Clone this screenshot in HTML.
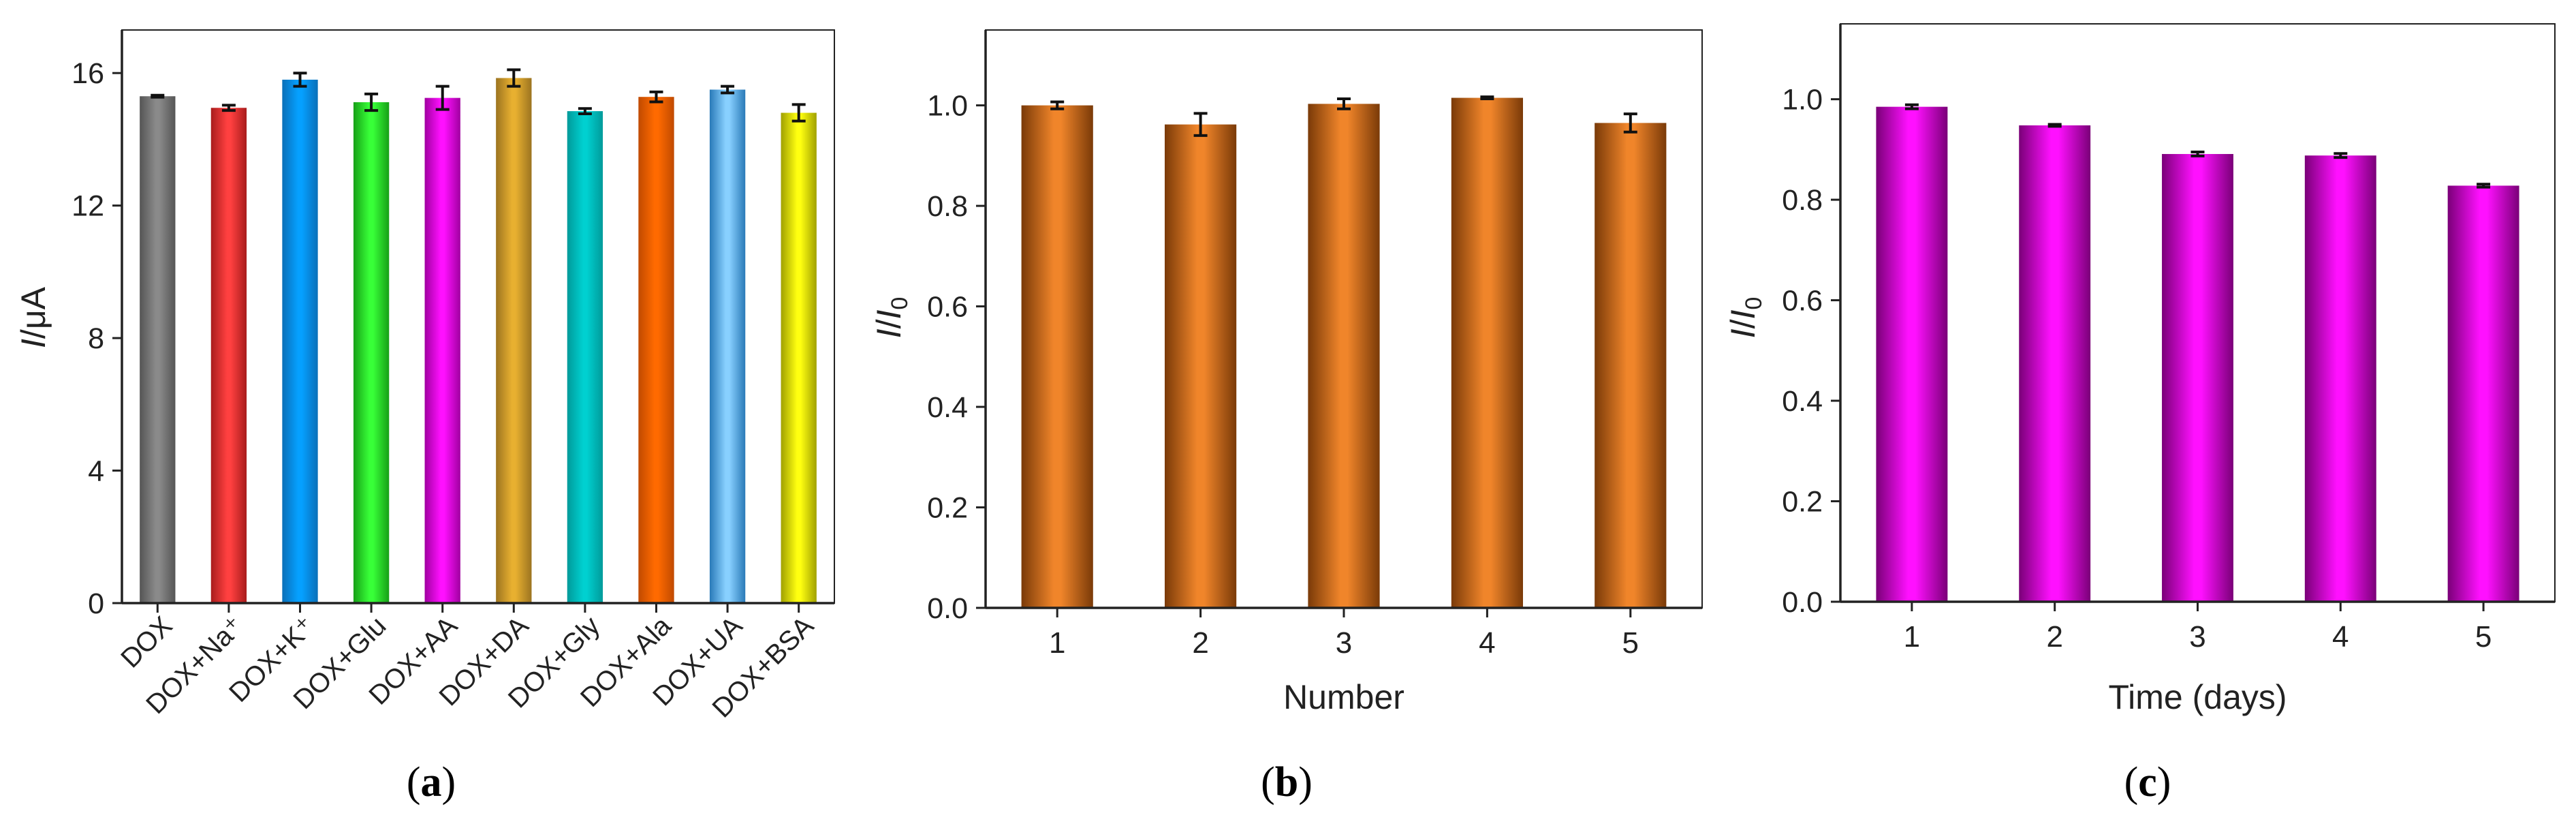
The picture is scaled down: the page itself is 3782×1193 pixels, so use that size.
<!DOCTYPE html>
<html><head><meta charset="utf-8">
<style>
html,body{margin:0;padding:0;background:#fff;}
svg{display:block;font-family:"Liberation Sans",Arial,sans-serif;}
</style></head>
<body>
<svg id="fig" xmlns="http://www.w3.org/2000/svg" width="3782" height="1193" viewBox="0 0 3782 1193">
<defs id="defs"></defs>
<rect x="0" y="0" width="3782" height="1193" fill="#fff"/>
</svg>
<script>
// ---- Panel a data ----
const catsA = ["DOX","DOX+Na⁺","DOX+K⁺","DOX+Glu","DOX+AA","DOX+DA","DOX+Gly","DOX+Ala","DOX+UA","DOX+BSA"];
const valsA = [15.3,14.95,15.8,15.12,15.25,15.85,14.85,15.28,15.5,14.8];
const errsA = [0.03,0.08,0.2,0.25,0.35,0.25,0.08,0.15,0.1,0.25];
const ticksA = [0,4,8,12,16];
// ---- Panel b data ----
const catsB = ["1","2","3","4","5"];
const valsB = [1.0,0.962,1.003,1.015,0.965];
const errsB = [0.007,0.022,0.01,0.002,0.018];
const ticksB = ["0.0","0.2","0.4","0.6","0.8","1.0"];
// ---- Panel c data ----
const catsC = ["1","2","3","4","5"];
const valsC = [0.985,0.948,0.891,0.888,0.828];
const errsC = [0.004,0.002,0.004,0.004,0.003];
const ticksC = ["0.0","0.2","0.4","0.6","0.8","1.0"];

const colorsA = [["#555","#8a8a8a"],["#a81c1c","#ff4040"],["#0a6fb8","#05a0ff"],["#17a017","#38ff38"],["#a000a0","#ff10ff"],["#9c7420","#e8b030"],["#009a9a","#00d0d0"],["#c04a00","#ff6a00"],["#2a7ab8","#88d0ff"],["#a0a000","#ffff10"]];
const NS = "http://www.w3.org/2000/svg";
const svg = document.getElementById("fig");
const defs = document.getElementById("defs");
function mk(tag, attrs, parent){const e=document.createElementNS(NS,tag);for(const k in attrs)e.setAttribute(k,attrs[k]);(parent||svg).appendChild(e);return e;}
function grad(id, edge, mid){
  const g=mk("linearGradient",{id:id,x1:"0",x2:"1",y1:"0",y2:"0"},defs);
  mk("stop",{offset:"0",  "stop-color":edge},g);
  mk("stop",{offset:"0.45","stop-color":mid},g);
  mk("stop",{offset:"0.55","stop-color":mid},g);
  mk("stop",{offset:"1",  "stop-color":edge},g);
}

function panel(p){
  const g = mk("g",{});
  
  
  const yS = v => p.bottom - (v - 0)/(p.ymax) * (p.bottom - p.top);
  const band = (p.right - p.left)/p.cats.length;
  const xS = i => p.left + band*(i+0.5);
  p.vals.forEach((v,i)=>{
    const w = band*0.5, x = xS(i)-w/2, y = yS(v);
    const r = mk("rect",{x:x,y:y,width:w,height:p.bottom-y,fill:"url(#"+p.fill(i)+")"},g);
    
    
  });
  p.vals.forEach((v,i)=>{
    const e=p.errs[i], cx=xS(i), y1=yS(v+e), y2=yS(v-e);
    const eg = mk("g",{stroke:"#111","stroke-width":4},g);
    
    
    mk("line",{x1:cx,x2:cx,y1:y1,y2:y2},eg);
    mk("line",{x1:cx-10,x2:cx+10,y1:y1,y2:y1},eg);
    mk("line",{x1:cx-10,x2:cx+10,y1:y2,y2:y2},eg);
  });
  const f = mk("rect",{x:p.left,y:p.top,width:p.right-p.left,height:p.bottom-p.top,fill:"none",stroke:"#222","stroke-width":2},g);
  
  
  mk("line",{x1:p.left,x2:p.right,y1:p.bottom,y2:p.bottom,stroke:"#222","stroke-width":3.5},g);
  mk("line",{x1:p.left,x2:p.left,y1:p.top,y2:p.bottom,stroke:"#222","stroke-width":3.5},g);
  p.ticks.forEach(t=>{
    const y=yS(parseFloat(t));
    mk("line",{x1:p.left-14,x2:p.left,y1:y,y2:y,stroke:"#222","stroke-width":3},g);
    const tx = mk("text",{x:p.left-26,y:y+15,"text-anchor":"end","font-size":43,fill:"#222"},g);
    tx.textContent=t;
    
    
  });
  p.cats.forEach((c,i)=>{
    const x=xS(i);
    mk("line",{x1:x,x2:x,y1:p.bottom,y2:p.bottom+14,stroke:"#222","stroke-width":3},g);
    let tx;
    if(p.rotate){
      tx = mk("text",{x:x+24,y:p.bottom+36,"text-anchor":"end","font-size":40,fill:"#222",transform:"rotate(-45 "+(x+24)+" "+(p.bottom+36)+")"},g);
    } else {
      tx = mk("text",{x:x,y:p.bottom+66,"text-anchor":"middle","font-size":44,fill:"#222"},g);
    }
    tx.textContent=c;
    
    
  });
  const yt = mk("text",{x:p.ytx,y:466,"text-anchor":"middle","font-size":50,fill:"#222",transform:"rotate(-90 "+p.ytx+" 466)"},g);
  yt.innerHTML = p.ytitle;
  
  
  if(p.xtitle){
    const xt = mk("text",{x:(p.left+p.right)/2,y:1040,"text-anchor":"middle","font-size":50,fill:"#222"},g);
    xt.textContent=p.xtitle;
    
    
  }
  const cap = mk("text",{x:p.capx,y:1168,"text-anchor":"middle","font-size":62,fill:"#000","font-family":"Liberation Serif, serif"},g);
  cap.innerHTML = '(<tspan font-weight="bold">'+p.id+'</tspan>)';
  
  
}

colorsA.forEach((c,i)=>grad("gA"+i,c[0],c[1]));
grad("gB","#7a3a08","#f0852a");
grad("gC","#7a0078","#ff10ff");

panel({id:"a",name:"panel-a-interference",left:179,right:1225,top:44,bottom:885,ymax:17.3,
  cats:catsA,vals:valsA,errs:errsA,ticks:ticksA.map(String),fill:i=>"gA"+i,rotate:true,
  ytx:66,ytitle:'<tspan font-style="italic">I</tspan>/μA',capx:633});
panel({id:"b",name:"panel-b-reproducibility",left:1447,right:2499,top:44,bottom:892,ymax:1.15,
  cats:catsB,vals:valsB,errs:errsB,ticks:ticksB,fill:i=>"gB",rotate:false,
  ytx:1322,ytitle:'<tspan font-style="italic">I</tspan>/<tspan font-style="italic">I</tspan><tspan font-size="34" dy="10">0</tspan>',xtitle:"Number",capx:1889});
panel({id:"c",name:"panel-c-stability",left:2702,right:3751,top:35,bottom:883,ymax:1.15,
  cats:catsC,vals:valsC,errs:errsC,ticks:ticksC,fill:i=>"gC",rotate:false,
  ytx:2576,ytitle:'<tspan font-style="italic">I</tspan>/<tspan font-style="italic">I</tspan><tspan font-size="34" dy="10">0</tspan>',xtitle:"Time (days)",capx:3153});
</script>
</body></html>
